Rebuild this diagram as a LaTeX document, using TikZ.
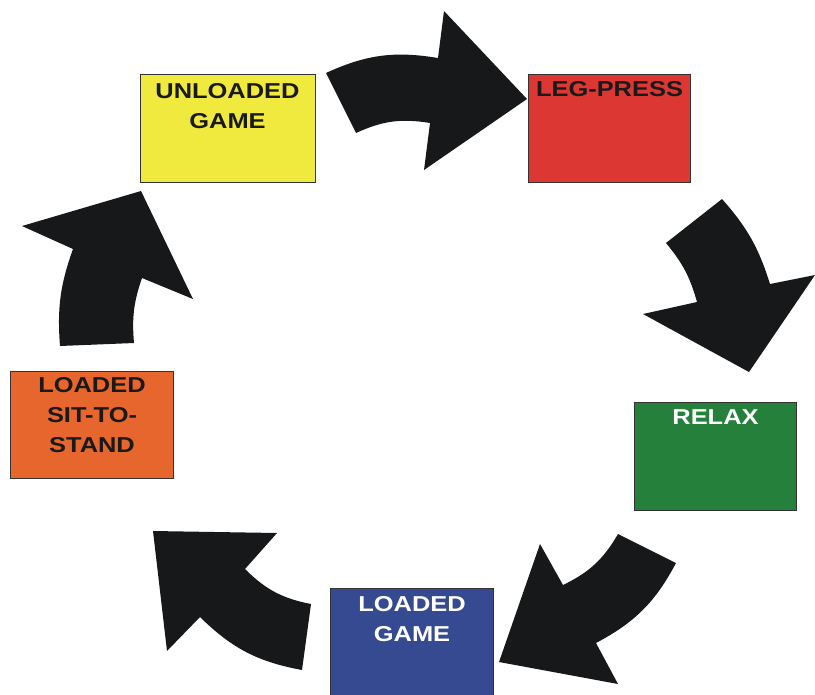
\documentclass[tikz,border=0pt]{standalone}
\usepackage{fontspec}
\setmainfont{Liberation Sans}
\usetikzlibrary{positioning}

\definecolor{yellowbox}{HTML}{F1EA3E}
\definecolor{redbox}{HTML}{DC3733}
\definecolor{greenbox}{HTML}{24803B}
\definecolor{bluebox}{HTML}{364A91}
\definecolor{orangebox}{HTML}{E6662E}
\definecolor{arrowblack}{HTML}{171819}
\definecolor{boxline}{HTML}{333333}
\definecolor{textblack}{HTML}{1A1A1A}

\begin{document}
\begin{tikzpicture}[x=0.03cm, y=-0.03cm, every node/.style={font=\bfseries}]
\tikzset{
  stage/.style={
    draw=boxline,
    line width=0.8pt,
    minimum width=4.88cm,
    minimum height=3.22cm,
    inner sep=0pt,
  },
  stagetext/.style={font=\fontsize{18.4}{25.6}\selectfont\bfseries, align=center, inner sep=0pt, xscale=1.18, transform shape},
  bigarrow/.style={fill=arrowblack, draw=none}
}
\useasboundingbox (0,0) rectangle (815,694);
\clip (0,0) rectangle (815,694);
\node[stage, fill=yellowbox, minimum width=5.25cm] (unloaded) at (227.5,128.5) {};
\node[stage, fill=redbox] (legpress) at (609.5,128.5) {};
\node[stage, fill=greenbox] (relax) at (715.5,456.5) {};
\node[stage, fill=bluebox] (loaded) at (412,642.5) {};
\node[stage, fill=orangebox] (sitstand) at (92,425) {};
\node[stagetext, text=textblack, below=0.26cm of unloaded.north] (unloadedtxt) {UNLOADED\\GAME};
\node[stagetext, text=textblack, below=0.2cm of legpress.north] (legpresstxt) {LEG-PRESS};
\node[stagetext, text=white, below=0.2cm of relax.north] (relaxtxt) {RELAX};
\node[stagetext, text=white, below=0.23cm of loaded.north] (loadedtxt) {LOADED\\GAME};
\node[stagetext, text=textblack, below=0.2cm of sitstand.north] (sitstandtxt) {LOADED\\SIT-TO-\\STAND};
% curved arrows round the cycle
\fill[bigarrow] (356,133) -- (326,73) to[bend left=17] (438,58) -- (444,11) -- (527,99)
  -- (424,170) -- (430,123) to[bend right=17] (356,133) -- cycle;
\fill[bigarrow] (666,243) -- (722,199) to[bend left=12] (770,284) -- (815,275) -- (749,372)
  -- (643,314) -- (697,302) to[bend right=12] (666,243) -- cycle;
\fill[bigarrow] (618,534) -- (676,563) to[bend left=17] (596,643) -- (618,684) -- (499,662)
  -- (540,544) -- (563,585) to[bend right=17] (618,534) -- cycle;
\fill[bigarrow] (311,604) -- (302,670) to[bend left=17] (200,617) -- (167,651) -- (153,531)
  -- (277,533) -- (245,569) to[bend right=17] (311,604) -- cycle;
\fill[bigarrow] (134,343) -- (60,346) to[bend left=12] (73,249) -- (22,226) -- (141,191)
  -- (193,299) -- (142,278) to[bend right=12] (134,343) -- cycle;
\end{tikzpicture}
\end{document}
